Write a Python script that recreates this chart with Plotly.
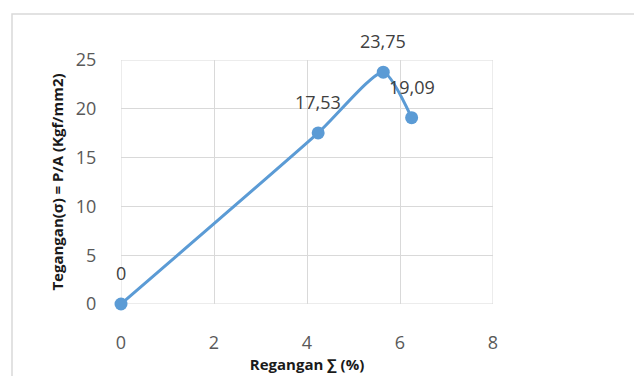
import plotly.graph_objects as go

strain = [0, 4.24, 5.64, 6.25]
stress = [0, 17.53, 23.75, 19.09]
labels = ["0", "17,53", "23,75", "19,09"]
x_ticks = [0, 2, 4, 6, 8]
y_ticks = [0, 5, 10, 15, 20, 25]

# page body has an 8px offset; figure is sized so the screen layout matches
W, H = 634, 368
L, T = 113, 52
R = W - 485
B = H - 296
pw, ph = W - L - R, H - T - B

def px_x(p):
    return (p - L) / pw

def px_y(p):
    return (H - B - p) / ph

blue = "#5B9BD5"
grid = "#d9d9d9"

fig = go.Figure()
fig.add_trace(go.Scatter(
    x=strain, y=stress, mode="lines+markers",
    line=dict(color=blue, width=3, shape="spline", smoothing=0.6),
    marker=dict(color=blue, size=13),
    cliponaxis=False, showlegend=False,
))

annotations = [
    dict(x=xv, y=yv, text=t, showarrow=False, yshift=31, xanchor="center", yanchor="middle",
         font=dict(family="Open Sans", size=18, color="#404040"))
    for xv, yv, t in zip(strain, stress, labels)
]

fig.update_layout(
    width=W, height=H,
    margin=dict(l=L, r=R, t=T, b=B, autoexpand=False),
    paper_bgcolor="white", plot_bgcolor="white",
    font=dict(family="Open Sans", color="#595959"),
    annotations=annotations,
    xaxis=dict(range=[0, 8], tickvals=x_ticks, showgrid=True, gridcolor=grid,
               gridwidth=1, zeroline=False, showline=False,
               tickfont=dict(size=18, color="#595959"), ticks="outside", ticklen=22,
               tickcolor="rgba(0,0,0,0)",
               title=dict(text="<b>Regangan ∑ (%)</b>", font=dict(size=15, color="#1a1a1a"), standoff=4)),
    yaxis=dict(range=[0, 25], tickvals=y_ticks, showgrid=True, gridcolor=grid,
               gridwidth=1, zeroline=False, showline=False,
               tickfont=dict(size=18, color="#595959"), ticks="outside", ticklen=20,
               tickcolor="rgba(0,0,0,0)",
               title=dict(text="<b>Tegangan(σ) = P/A (Kgf/mm2)</b>", font=dict(size=15, color="#1a1a1a"), standoff=8)),
    shapes=[
        dict(type="rect", xref="paper", yref="paper",
             x0=px_x(4), x1=px_x(632), y0=px_y(6), y1=px_y(380),
             line=dict(color=grid, width=1.5), layer="below"),
        dict(type="line", xref="x", yref="paper", x0=0, x1=0, y0=0, y1=1,
             line=dict(color=grid, width=1), layer="below"),
        dict(type="line", xref="x", yref="paper", x0=8, x1=8, y0=0, y1=1,
             line=dict(color=grid, width=1), layer="below"),
        dict(type="line", xref="paper", yref="y", x0=0, x1=1, y0=0, y1=0,
             line=dict(color=grid, width=1), layer="below"),
        dict(type="line", xref="paper", yref="y", x0=0, x1=1, y0=25, y1=25,
             line=dict(color=grid, width=1), layer="below"),
    ],
)

fig.write_html("out.html")
